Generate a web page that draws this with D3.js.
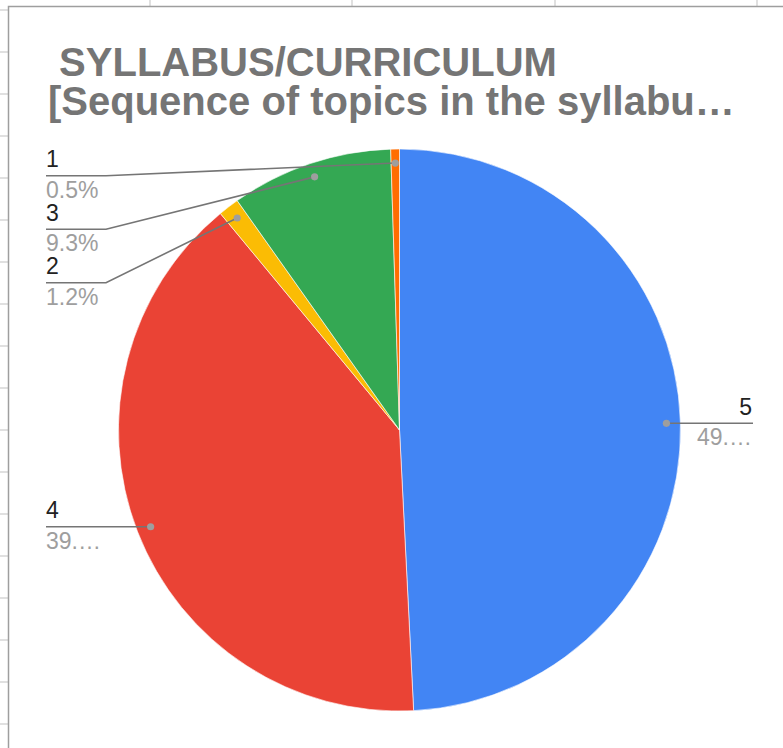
<!DOCTYPE html>
<html>
<head>
<meta charset="utf-8">
<script src="https://cdn.jsdelivr.net/npm/d3@7"></script>
<style>
  html, body { margin: 0; padding: 0; background: #ffffff; }
  svg { display: block; }
  text { font-family: "Liberation Sans", Arial, sans-serif; }
</style>
</head>
<body>
<svg id="chart" width="783" height="748"></svg>
<script>
// ---- data ----
const titleLines = [" SYLLABUS/CURRICULUM", "[Sequence of topics in the syllabu…"];
const categories = ["5", "4", "2", "3", "1"];
const percents = [49.2, 39.8, 1.2, 9.3, 0.5];
const colors = ["#4285f4", "#ea4335", "#fbbc04", "#34a853", "#ff6d01"];

// ---- layout ----
const W = 783, H = 748;
const cx = 399.5, cy = 430, R = 281;
const svg = d3.select("#chart");

// spreadsheet background grid
const gridYs = d3.range(10, H, 42);
const gridXs = [150, 352, 555, 757];
svg.append("g").selectAll("line").data(gridYs).join("line")
  .attr("x1", 0).attr("x2", 8).attr("y1", d => d).attr("y2", d => d)
  .attr("stroke", "#e0e0e0").attr("stroke-width", 2);
svg.append("g").selectAll("line").data(gridXs).join("line")
  .attr("x1", d => d).attr("x2", d => d).attr("y1", 0).attr("y2", 6)
  .attr("stroke", "#e0e0e0").attr("stroke-width", 2);
// chart box border
svg.append("path").attr("d", `M8.5,${H} L8.5,6.5 L${W},6.5`)
  .attr("fill", "none").attr("stroke", "#9e9e9e").attr("stroke-width", 1.5);

// title
const title = svg.append("text")
  .attr("fill", "#757575").attr("font-size", 40).attr("font-weight", "bold")
  .style("white-space", "pre");
titleLines.forEach((t, i) => {
  title.append("tspan").attr("x", 48).attr("y", 76 + i * 38.5).text(t);
});

// pie
const data = categories.map((c, i) => ({ cat: c, value: percents[i], color: colors[i] }));
const pie = d3.pie().sort(null).value(d => d.value).startAngle(0).endAngle(2 * Math.PI);
const arcs = pie(data);
const arc = d3.arc().innerRadius(0).outerRadius(R);
const g = svg.append("g").attr("transform", `translate(${cx},${cy})`);
g.selectAll("path").data(arcs).join("path")
  .attr("d", arc).attr("fill", d => d.data.color)
  .attr("stroke", "#ffffff").attr("stroke-width", 0.6);

// labels
const dotArc = d3.arc().innerRadius(R - 14).outerRadius(R - 14);
const labels = arcs.map(a => {
  const [x, y] = dotArc.centroid(a);
  return { a, dx: cx + x, dy: cy + y, right: x > 0 };
});
const spacing = 53.5, minY = 175.7;
["left", "right"].forEach(side => {
  const grp = labels.filter(l => (side === "right") === l.right).sort((p, q) => p.dy - q.dy);
  let prev = -Infinity;
  grp.forEach(l => {
    let y = Math.max(l.dy, side === "left" ? minY : -Infinity, prev + spacing);
    l.ly = y; prev = y;
  });
});

const fs = 23, maxW = 58;
const lg = svg.append("g");
labels.forEach(l => {
  const xText = l.right ? 752 : 46;
  const xEnd = l.right ? 753 : 46;
  let pts;
  if (Math.abs(l.ly - l.dy) < 1) {
    pts = [[xEnd, l.ly], [l.dx, l.dy]];
  } else {
    const elbow = l.right ? 693 : 106;
    pts = [[xEnd, l.ly], [elbow, l.ly], [l.dx, l.dy]];
  }
  lg.append("path").attr("d", d3.line()(pts))
    .attr("fill", "none").attr("stroke", "#757575").attr("stroke-width", 1.6);
  lg.append("circle").attr("cx", l.dx).attr("cy", l.dy).attr("r", 3.6).attr("fill", "#9e9e9e");
  lg.append("text").attr("x", xText).attr("y", l.ly - 8.5)
    .attr("text-anchor", l.right ? "end" : "start")
    .attr("font-size", fs).attr("fill", "#222222").text(l.a.data.cat);
  const pt = lg.append("text").attr("x", xText).attr("y", l.ly + 22)
    .attr("text-anchor", l.right ? "end" : "start")
    .attr("font-size", fs).attr("fill", "#9e9e9e");
  let s = l.a.data.value.toFixed(1) + "%";
  pt.text(s);
  while (pt.node().getComputedTextLength() > maxW && s.length > 1) {
    s = s.slice(0, -1);
    pt.text(s + "…");
  }
});
</script>
</body>
</html>
